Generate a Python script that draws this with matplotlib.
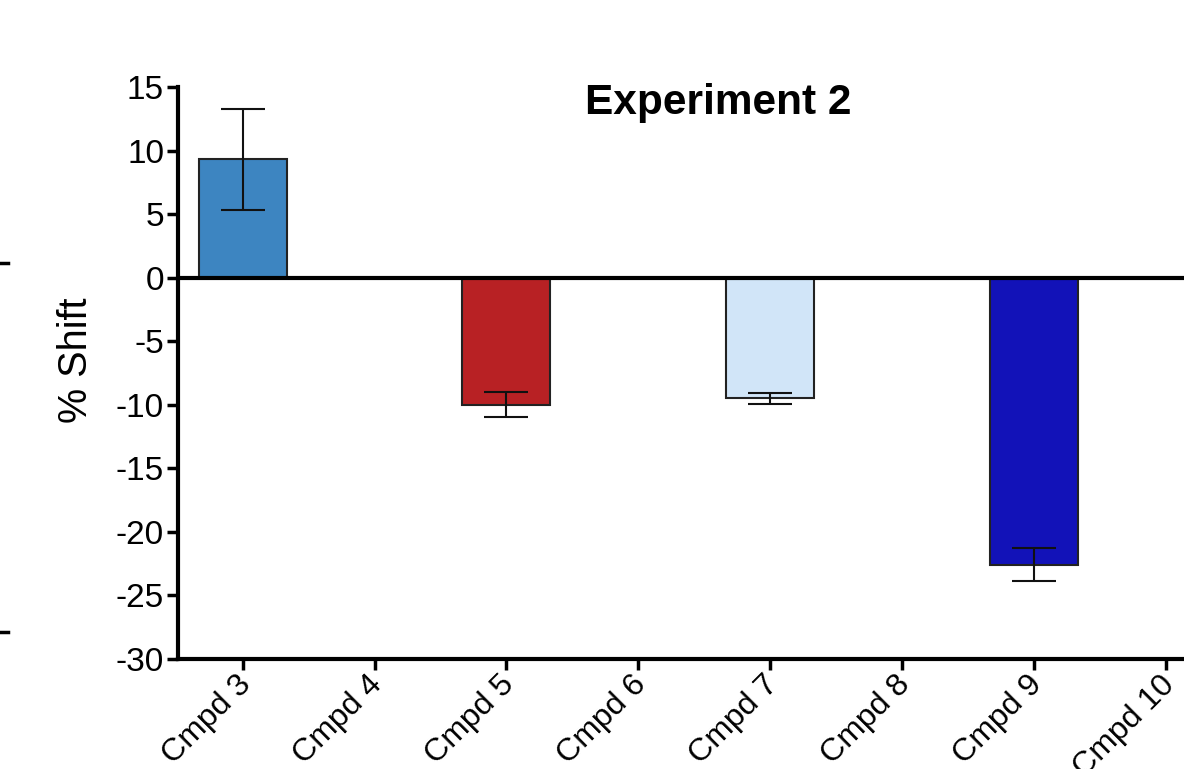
import numpy as np
import matplotlib
matplotlib.use('Agg')
import matplotlib.pyplot as plt
import matplotlib.transforms as mtransforms
from matplotlib.lines import Line2D

plt.rcParams['font.family'] = ['Liberation Sans', 'DejaVu Sans']

# data
compounds = ["Cmpd 3", "Cmpd 4", "Cmpd 5", "Cmpd 6",
             "Cmpd 7", "Cmpd 8", "Cmpd 9", "Cmpd 10"]
shift = [9.3, np.nan, -10.0, np.nan, -9.5, np.nan, -22.6, np.nan]
sem = [4.0, np.nan, 1.0, np.nan, 0.4, np.nan, 1.3, np.nan]
bar_colors = ["#3D85C1", "none", "#B82124", "none",
              "#D1E5F8", "none", "#1212B8", "none"]
y_ticks = [15, 10, 5, 0, -5, -10, -15, -20, -25, -30]

fig = plt.figure(figsize=(11.84, 7.69), dpi=100)
ax = fig.add_axes([0.1503, 0.1430, 0.8497, 0.7439])

x = np.arange(len(compounds))
has = ~np.isnan(shift)
xs = x[has]
vals = np.array(shift)[has]
errs = np.array(sem)[has]
cols = [c for c, h in zip(bar_colors, has) if h]

ax.bar(xs, vals, width=0.667, color=cols, edgecolor="#222222",
       linewidth=1.5, zorder=2)
ax.errorbar(xs, vals, yerr=errs, fmt="none", ecolor="#111111",
            elinewidth=1.5, capsize=16, capthick=1.5, zorder=3)

ax.axhline(0, color="black", linewidth=3, zorder=4)

ax.set_xlim(-0.49, 7.136)
ax.set_ylim(-30, 15)
ax.set_yticks(y_ticks)
ax.set_yticklabels([str(t) for t in y_ticks])
ax.set_xticks(x)
ax.set_xticklabels(compounds, rotation=45, ha="right",
                   rotation_mode="anchor", fontsize=23)

ax.spines["top"].set_visible(False)
ax.spines["right"].set_visible(False)
ax.spines["left"].set_linewidth(3)
ax.spines["bottom"].set_linewidth(3)
ax.tick_params(axis="y", direction="out", length=8, width=2.5,
               labelsize=24, pad=2)
ax.tick_params(axis="x", direction="out", length=8, width=2.5, pad=4)

# nudge rotated labels so they end right under their ticks
shift_tr = mtransforms.ScaledTranslation(-7 / 100, 6 / 100,
                                         fig.dpi_scale_trans)
for lab in ax.get_xticklabels():
    lab.set_transform(lab.get_transform() + shift_tr)

ax.set_ylabel("% Shift", fontsize=28.5)
ax.yaxis.set_label_coords(-0.082, 0.523)

ax.text(0.537, 1.007, "Experiment 2", transform=ax.transAxes,
        ha="center", va="top", fontsize=30.5, fontweight="bold")

# leftover tick marks from the neighbouring panel at the left edge
for yy in (263, 632):
    yf = 1 - yy / 769
    fig.add_artist(Line2D([0, 8 / 1184], [yf, yf], color="black",
                          linewidth=2.5, transform=fig.transFigure))

fig.savefig("out.png", dpi=100)
